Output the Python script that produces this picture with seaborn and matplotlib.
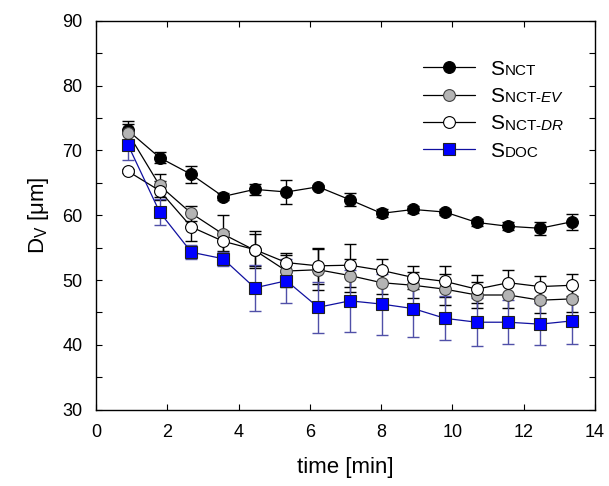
import numpy as np
import pandas as pd
import matplotlib
matplotlib.use('Agg')
import matplotlib.pyplot as plt
import seaborn as sns

# time points [min]
time = [0.89, 1.78, 2.67, 3.56, 4.45, 5.34, 6.23, 7.12, 8.01, 8.90, 9.79, 10.68, 11.57, 12.46, 13.35]

# D_V values
s_nct = [73.1, 68.9, 66.3, 62.9, 64.0, 63.6, 64.4, 62.4, 60.3, 60.9, 60.5, 58.9, 58.3, 58.0, 59.0]
s_nct_err = [1.5, 0.8, 1.3, 0.5, 0.9, 1.9, 0.3, 1.0, 0.6, 0.5, 0.4, 0.5, 0.6, 1.0, 1.2]
s_ev = [72.7, 64.6, 60.3, 57.1, 54.6, 51.4, 51.6, 50.7, 49.6, 49.2, 48.6, 47.7, 47.7, 46.9, 47.1]
s_ev_err = [1.4, 1.7, 1.2, 3.0, 2.5, 2.5, 3.2, 2.5, 1.8, 2.0, 2.4, 2.0, 2.0, 2.0, 2.0]
s_dr = [66.8, 63.8, 58.2, 56.0, 54.7, 52.7, 52.2, 52.3, 51.5, 50.4, 49.8, 48.6, 49.6, 49.0, 49.2]
s_dr_err = [0.3, 1.5, 2.2, 1.5, 2.9, 1.5, 2.8, 3.3, 1.8, 1.7, 2.4, 2.2, 2.0, 1.6, 1.7]
s_doc = [70.9, 60.5, 54.3, 53.3, 48.8, 49.9, 45.8, 46.8, 46.3, 45.6, 44.1, 43.5, 43.5, 43.2, 43.7]
s_doc_err = [2.4, 2.0, 1.1, 1.1, 3.5, 3.4, 3.9, 4.8, 4.7, 4.4, 3.4, 3.7, 3.4, 3.2, 3.6]

# label pieces: big "S" + small caps rest
suffixes = ['NCT', r'NCT-$\mathit{EV}$', r'NCT-$\mathit{DR}$', 'DOC']

sns.set_style('ticks')
plt.rcParams['font.family'] = ['Liberation Sans', 'DejaVu Sans']
plt.rcParams['mathtext.fontset'] = 'custom'
plt.rcParams['mathtext.rm'] = 'Liberation Sans'
plt.rcParams['mathtext.it'] = 'Liberation Sans:italic'
plt.rcParams['text.color'] = 'black'
plt.rcParams['axes.labelcolor'] = 'black'
plt.rcParams['xtick.color'] = 'black'
plt.rcParams['ytick.color'] = 'black'

series = [
    (s_nct, s_nct_err, dict(color='black', marker='o', mfc='black', mec='black', ecolor='black')),
    (s_ev, s_ev_err, dict(color='black', marker='o', mfc='#b4b4b4', mec='#404040', ecolor='black')),
    (s_dr, s_dr_err, dict(color='black', marker='o', mfc='white', mec='black', ecolor='black')),
    (s_doc, s_doc_err, dict(color='#1010a0', marker='s', mfc='#0000ff', mec='#202020', ecolor='#5050a8')),
]

fig = plt.figure(figsize=(6.09, 4.86), dpi=100)
ax = fig.add_axes([0.158, 0.157, 0.819, 0.800])

handles = []
for vals, err, st in series:
    df = pd.DataFrame({'time': time, 'dv': vals})
    ax.errorbar(df['time'], df['dv'], yerr=err, fmt='none', ecolor=st['ecolor'],
                elinewidth=1.0, capsize=4.5, capthick=1.0, zorder=2)
    sns.lineplot(data=df, x='time', y='dv', ax=ax, color=st['color'], marker=st['marker'],
                 markerfacecolor=st['mfc'], markeredgecolor=st['mec'], markersize=8.5,
                 markeredgewidth=0.8, linewidth=0.9, zorder=3)
    handles.append(ax.lines[-1])

ax.set_xlim(0, 14)
ax.set_ylim(30, 90)
ax.set_xticks(np.arange(0, 15, 2))
ax.set_yticks(np.arange(30, 91, 10))
ax.set_yticks(np.arange(30, 91, 5), minor=True)
ax.tick_params(which='both', direction='in', top=True, right=True, labelsize=13,
               length=4, width=0.8, pad=10)
ax.tick_params(axis='x', which='minor', bottom=False, top=False)
for sp in ax.spines.values():
    sp.set_linewidth(1.0)
    sp.set_color('black')

ax.set_xlabel('time [min]', fontsize=16, labelpad=12)
ax.set_ylabel(r'D$_\mathregular{V}$ [μm]', fontsize=16, labelpad=8)

leg = ax.legend(handles, ['S'] * 4, loc='upper left', bbox_to_anchor=(0.655, 0.9),
                frameon=False, fontsize=15, handlelength=2.5, labelspacing=0.4,
                handletextpad=0.7, borderaxespad=0, borderpad=0)

fig.canvas.draw()
for txt, suf in zip(leg.get_texts(), suffixes):
    ax.annotate(suf, xy=(1, 0), xycoords=txt, xytext=(0.5, 0.5), textcoords='offset points',
                ha='left', va='bottom', fontsize=11)

fig.savefig('out.png', dpi=100)
